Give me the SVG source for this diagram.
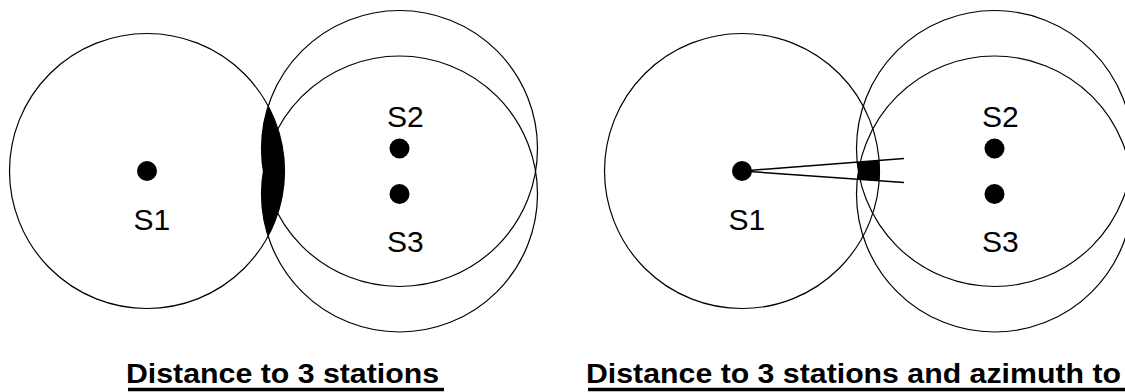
<svg xmlns="http://www.w3.org/2000/svg" width="1125" height="392" viewBox="0 0 1125 392">
<style>
.ring{fill:none;stroke:#000;stroke-width:1.2}
.dot{fill:#000}
.lbl{font-family:"Liberation Sans",Arial,sans-serif;font-size:30px;fill:#000}
.ttl{font-family:"Liberation Sans",Arial,sans-serif;font-size:27.5px;font-weight:bold;fill:#000}
.ul{stroke:#000;stroke-width:3.5}
.az{stroke:#000;stroke-width:1.5;fill:none}
</style>
<defs>
<clipPath id="clipA"><circle cx="147" cy="171" r="137.5"/></clipPath>
<clipPath id="clipB"><circle cx="742" cy="171" r="137.5"/></clipPath>
<clipPath id="wedge"><polygon points="742,171 904,158.5 904,182.5"/></clipPath>
</defs>
<rect width="1125" height="392" fill="#fff"/>

<g id="panel-left">
  <g id="fix-area-left" clip-path="url(#clipA)">
    <circle cx="399.5" cy="148.5" r="138" fill="#000"/>
    <circle cx="399.5" cy="194" r="138" fill="#000"/>
  </g>
  <g id="range-left">
    <circle class="ring" cx="147" cy="171" r="137.5"/>
    <circle class="ring" cx="399.5" cy="148.5" r="138"/>
    <circle class="ring" cx="399.5" cy="194" r="138"/>
  </g>
  <g id="L-S1"><circle class="dot" cx="147" cy="171" r="10"/><text class="lbl" x="133.5" y="230">S1</text></g>
  <g id="L-S2"><circle class="dot" cx="399.5" cy="148.5" r="10"/><text class="lbl" x="387" y="127">S2</text></g>
  <g id="L-S3"><circle class="dot" cx="399.5" cy="194" r="10"/><text class="lbl" x="387" y="252">S3</text></g>
  <g id="title-left">
    <text class="ttl" x="126" y="383" textLength="313" lengthAdjust="spacingAndGlyphs">Distance to 3 stations</text>
    <line class="ul" x1="128" y1="389.5" x2="444" y2="389.5"/>
  </g>
</g>

<g id="panel-right">
  <g id="fix-area-right" clip-path="url(#wedge)">
    <g clip-path="url(#clipB)">
      <circle cx="994.5" cy="148.5" r="138" fill="#000"/>
      <circle cx="994.5" cy="194" r="138" fill="#000"/>
    </g>
  </g>
  <g id="range-right">
    <circle class="ring" cx="742" cy="171" r="137.5"/>
    <circle class="ring" cx="994.5" cy="148.5" r="138"/>
    <circle class="ring" cx="994.5" cy="194" r="138"/>
  </g>
  <g id="connectors">
    <line class="az" x1="742" y1="171" x2="904" y2="158.5"/>
    <line class="az" x1="742" y1="171" x2="904" y2="182.5"/>
  </g>
  <g id="R-S1"><circle class="dot" cx="742" cy="171" r="10"/><text class="lbl" x="728.5" y="230">S1</text></g>
  <g id="R-S2"><circle class="dot" cx="994.5" cy="148.5" r="10"/><text class="lbl" x="982" y="127">S2</text></g>
  <g id="R-S3"><circle class="dot" cx="994.5" cy="194" r="10"/><text class="lbl" x="982" y="252">S3</text></g>
  <g id="title-right">
    <text class="ttl" x="586" y="383" textLength="535" lengthAdjust="spacingAndGlyphs">Distance to 3 stations and azimuth to</text>
    <line class="ul" x1="588" y1="389.5" x2="1125" y2="389.5"/>
  </g>
</g>
</svg>
